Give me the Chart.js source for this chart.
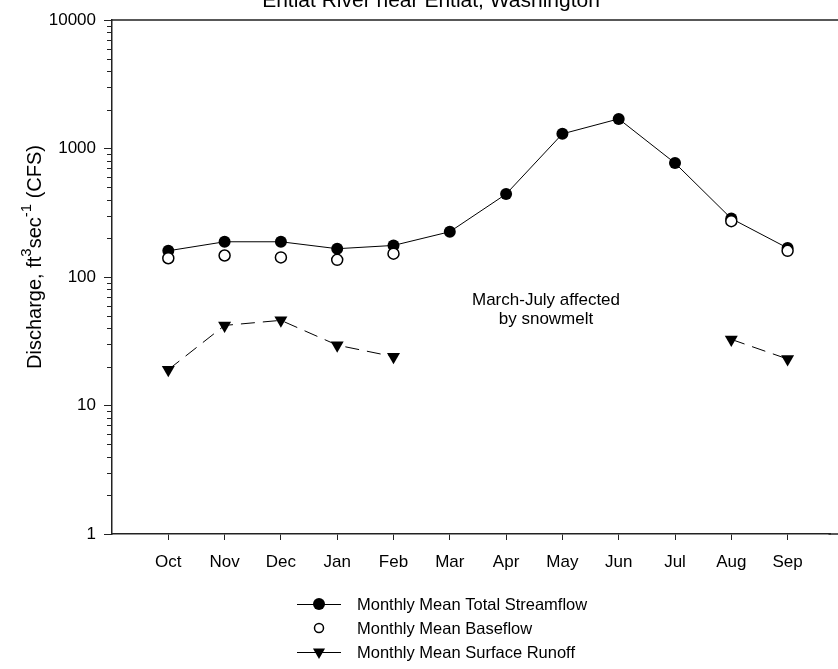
<!DOCTYPE html>
<html><head><meta charset="utf-8">
<script src="https://cdn.jsdelivr.net/npm/chart.js@4"></script>
<style>html,body{margin:0;padding:0;background:#fff}#wrap{width:838px;height:669px;position:relative}</style>
</head><body><div id="wrap"><canvas id="c" width="838" height="669"></canvas></div>
<script>
const months = ['Oct','Nov','Dec','Jan','Feb','Mar','Apr','May','Jun','Jul','Aug','Sep'];
const totalFlow = [160,188,188,166,176,225,442,1300,1700,770,285,168];
const baseFlow = [140,147,142,136,152,null,null,null,null,null,272,160];
const surfaceRunoff = [19,42,46,29.5,24,null,null,null,null,null,32.7,23];
const yTickLabels = ['1','10','100','1000','10000'];
const titleText = 'Entiat River near Entiat, Washington';
const noteLines = ['March-July affected','by snowmelt'];
const legendLabels = ['Monthly Mean Total Streamflow','Monthly Mean Baseflow','Monthly Mean Surface Runoff'];

const FONT = '"Liberation Sans", Arial, sans-serif';
const UNIT = 56.3;
const toXY = arr => arr.map((v,i)=>({x:i+1, y:v}));

function drawMarker(ctx, kind, x, y){
  ctx.save();
  ctx.strokeStyle='#000'; ctx.fillStyle='#000'; ctx.lineWidth=1;
  if(kind===0){ ctx.beginPath(); ctx.arc(x,y,6,0,Math.PI*2); ctx.fill(); }
  else if(kind===1){ ctx.fillStyle='#fff'; ctx.lineWidth=1.5; ctx.beginPath(); ctx.arc(x,y,4.5,0,Math.PI*2); ctx.fill(); ctx.stroke(); }
  else { const r=7; ctx.beginPath(); ctx.moveTo(x-r*0.866,y-r*0.5); ctx.lineTo(x+r*0.866,y-r*0.5); ctx.lineTo(x,y+r); ctx.closePath(); ctx.fill(); }
  ctx.restore();
}

const deco = {
  id:'deco',
  afterDraw(chart){
    const {ctx, chartArea:a, scales:{y}} = chart;
    ctx.save();
    // frame: top line and bottom axis extension to canvas edge
    ctx.strokeStyle='#222'; ctx.lineWidth=1.5;
    ctx.beginPath(); ctx.moveTo(a.left, a.top); ctx.lineTo(chart.width, a.top);
    ctx.moveTo(a.right-2, a.bottom); ctx.lineTo(chart.width, a.bottom); ctx.stroke();
    // minor log ticks
    ctx.lineWidth=1; ctx.beginPath();
    for(let d=0; d<4; d++){
      for(let m=2; m<=9; m++){
        const py = Math.round(y.getPixelForValue(m*Math.pow(10,d)))+0.5;
        ctx.moveTo(a.left-5, py); ctx.lineTo(a.left, py);
      }
    }
    ctx.stroke();
    ctx.fillStyle='#000';
    // title
    ctx.font = '21px '+FONT; ctx.textAlign='center'; ctx.textBaseline='alphabetic';
    ctx.fillText(titleText, 431, 7);
    // note
    ctx.font = '17px '+FONT;
    ctx.fillText(noteLines[0], 546, 305);
    ctx.fillText(noteLines[1], 546, 324);
    // y axis title with superscripts
    const parts = [['Discharge, ft',0],['3',1],['sec',0],['-1',1],[' (CFS)',0]];
    const big='20px '+FONT, small='15px '+FONT;
    let w=0; parts.forEach(p=>{ctx.font = p[1]?small:big; w += ctx.measureText(p[0]).width;});
    ctx.translate(41, 257); ctx.rotate(-Math.PI/2);
    ctx.textAlign='left';
    let cx = -w/2;
    parts.forEach(p=>{ ctx.font = p[1]?small:big; ctx.fillText(p[0], cx, p[1]?-10:0); cx += ctx.measureText(p[0]).width; });
    ctx.setTransform(1,0,0,1,0,0);
    // legend
    ctx.font='16.5px '+FONT; ctx.textAlign='left'; ctx.textBaseline='middle';
    const rows=[604,628,652];
    rows.forEach((ry,i)=>{
      if(i!==1){ ctx.strokeStyle='#000'; ctx.lineWidth=1; ctx.beginPath(); ctx.moveTo(297,ry+0.5); ctx.lineTo(341,ry+0.5); ctx.stroke(); }
      drawMarker(ctx, i, 319, ry);
      ctx.fillStyle='#000';
      ctx.fillText(legendLabels[i], 357, ry+1);
    });
    ctx.restore();
  }
};

const chart = new Chart(document.getElementById('c'), {
  type:'line',
  data:{ datasets:[
    {label:legendLabels[1], data:toXY(baseFlow), showLine:false, pointStyle:'circle', pointRadius:5.5, pointBackgroundColor:'#fff', pointBorderColor:'#000', pointBorderWidth:1.5, order:0},
    {label:legendLabels[0], data:toXY(totalFlow), borderColor:'#000', borderWidth:1, pointStyle:'circle', pointRadius:6, pointBackgroundColor:'#000', pointBorderColor:'#000', pointBorderWidth:0, order:1},
    {label:legendLabels[2], data:toXY(surfaceRunoff), borderColor:'#000', borderWidth:1, borderDash:[14,8], spanGaps:false, pointStyle:'triangle', pointRotation:180, pointRadius:7.5, pointBackgroundColor:'#000', pointBorderColor:'#000', pointBorderWidth:0, order:2}
  ]},
  options:{
    responsive:false, animation:false, devicePixelRatio:1,
    layout:{padding:{top:20,left:0,right:0,bottom:0}},
    plugins:{legend:{display:false}, tooltip:{enabled:false}, title:{display:false}},
    scales:{
      x:{type:'linear', min:0, max:12.9,
        afterBuildTicks:s=>{ s.ticks = months.map((m,i)=>({value:i+1})); },
        afterFit:s=>{ s.height = 135; },
        ticks:{callback:(v)=>months[v-1]||'', autoSkip:false, maxRotation:0, padding:12, color:'#000', font:{family:FONT, size:17}},
        grid:{drawOnChartArea:false, drawTicks:true, tickLength:6, color:'#222'},
        border:{color:'#222', width:1.5}
      },
      y:{type:'logarithmic', min:1, max:10000,
        afterBuildTicks:s=>{ s.ticks = yTickLabels.map(t=>({value:Number(t)})); },
        afterFit:s=>{ s.width = 112; },
        ticks:{callback:(v,i)=>yTickLabels[i], autoSkip:false, padding:8, color:'#000', font:{family:FONT, size:17}},
        grid:{drawOnChartArea:false, drawTicks:true, tickLength:8, color:'#222'},
        border:{color:'#222', width:1.5}
      }
    }
  },
  plugins:[deco]
});
// set the x range so one month spans UNIT pixels across the plot width
const ca = chart.chartArea;
chart.options.scales.x.max = (ca.right - ca.left) / UNIT;
chart.update('none');
</script></body></html>
